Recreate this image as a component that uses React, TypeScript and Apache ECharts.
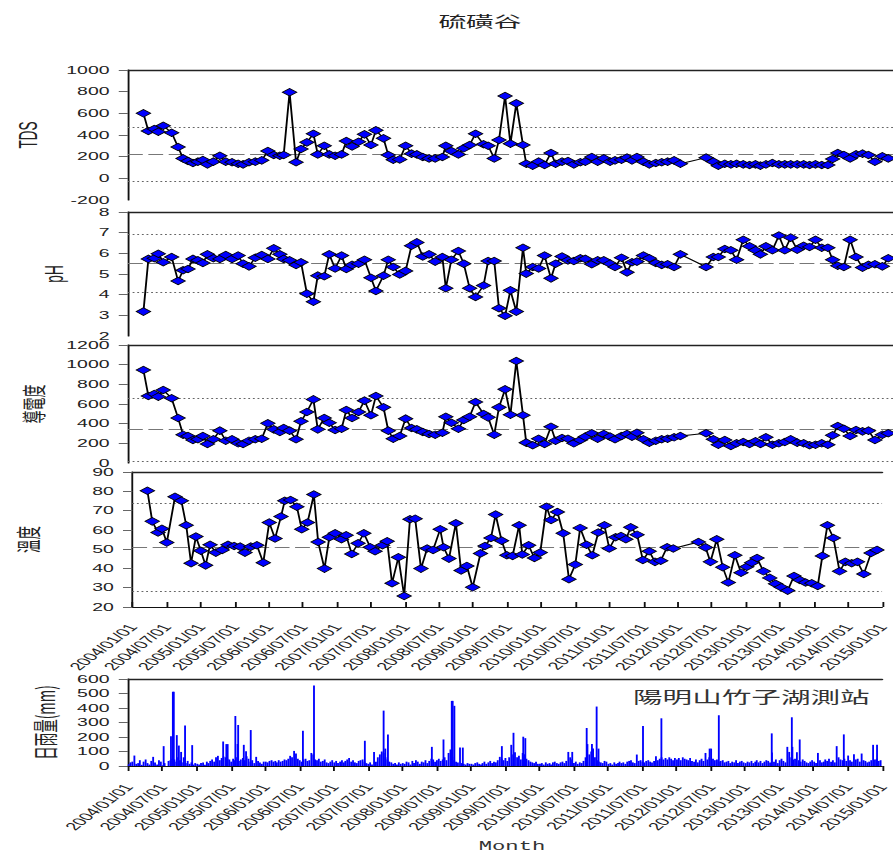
import React, { useEffect, useRef } from "react";
import * as echarts from "echarts";

// ---------------- data ----------------
const sampleDates = [
  "2004-03-22", "2004-04-17", "2004-05-18", "2004-06-08", "2004-07-04", "2004-08-17", "2004-09-20", "2004-10-16", "2004-11-11", "2004-12-07",
  "2005-01-02", "2005-01-28", "2005-02-21", "2005-03-24", "2005-04-27", "2005-05-28", "2005-06-30", "2005-08-01", "2005-08-27", "2005-09-27",
  "2005-10-30", "2005-12-03", "2006-01-04", "2006-02-04", "2006-03-08", "2006-03-28", "2006-04-28", "2006-06-01", "2006-06-27", "2006-07-28",
  "2006-08-31", "2006-09-23", "2006-10-27", "2006-11-22", "2006-12-23", "2007-01-26", "2007-02-20", "2007-03-22", "2007-04-25", "2007-05-26",
  "2007-06-29", "2007-07-25", "2007-09-03", "2007-09-28", "2007-10-24", "2007-11-27", "2007-12-28", "2008-01-28", "2008-02-25", "2008-03-27",
  "2008-04-29", "2008-05-31", "2008-07-08", "2008-07-26", "2008-08-24", "2008-09-30", "2008-10-28", "2008-11-28", "2008-12-29", "2009-02-09",
  "2009-03-05", "2009-04-06", "2009-05-01", "2009-06-02", "2009-06-30", "2009-07-31", "2009-09-04", "2009-09-21", "2009-10-25", "2009-11-25",
  "2009-12-26", "2010-01-29", "2010-02-22", "2010-03-28", "2010-04-28", "2010-05-29", "2010-07-02", "2010-07-28", "2010-08-31", "2010-10-01",
  "2010-11-02", "2010-12-05", "2010-12-31", "2011-02-03", "2011-03-04", "2011-03-30", "2011-04-25", "2011-05-29", "2011-06-29", "2011-08-02",
  "2011-09-02", "2011-10-03", "2011-11-06", "2011-12-09", "2012-04-22", "2012-05-30", "2012-06-25", "2012-07-29", "2012-08-30", "2012-09-29",
  "2012-11-03", "2012-12-06", "2013-01-06", "2013-02-01", "2013-03-02", "2013-04-05", "2013-05-09", "2013-06-09", "2013-07-10", "2013-08-13",
  "2013-09-16", "2013-10-17", "2013-11-17", "2013-12-20", "2014-01-21", "2014-02-15", "2014-03-14", "2014-04-15", "2014-05-18", "2014-06-18",
  "2014-07-22", "2014-08-22", "2014-09-25", "2014-11-03", "2014-12-04",
];

const tdsValues = [
  600, 437, 455, 430, 486, 421, 289, 184, 160, 141, 154, 169, 129, 154, 209, 154, 148, 135, 129, 148,
  154, 166, 252, 215, 209, 215, 794, 148, 271, 332, 412, 221, 301, 221, 209, 221, 344, 295, 338, 406,
  308, 443, 369, 215, 172, 175, 301, 228, 221, 197, 184, 184, 197, 301, 252, 221, 277, 308, 412, 314,
  301, 184, 354, 760, 320, 692, 308, 135, 117, 154, 123, 234, 135, 154, 160, 129, 148, 154, 197, 154,
  184, 154, 166, 172, 191, 166, 197, 154, 129, 141, 148, 154, 166, 135, 191, 154, 117, 135, 129, 135,
  129, 123, 129, 117, 129, 141, 129, 129, 129, 129, 129, 123, 129, 123, 123, 178, 234, 215, 184, 221,
  228, 215, 154, 203, 184,
];

const phValues = [
  3.18, 5.73, 5.76, 5.98, 5.57, 5.82, 4.66, 5.18, 5.24, 5.73, 5.66, 5.53, 5.95, 5.76, 5.73, 5.92, 5.73, 5.89, 5.5, 5.37,
  5.79, 5.92, 5.73, 6.24, 5.95, 5.73, 5.66, 5.44, 5.57, 4.05, 3.66, 4.92, 4.89, 5.95, 5.27, 5.89, 5.24, 5.44, 5.5, 5.69,
  4.82, 4.18, 4.92, 5.69, 5.34, 4.98, 5.15, 6.37, 6.53, 5.85, 5.95, 5.6, 5.82, 4.31, 5.69, 6.11, 5.5, 4.31, 3.89, 4.44,
  5.63, 5.63, 3.34, 2.98, 4.21, 3.18, 6.27, 5.02, 5.34, 5.27, 5.89, 4.79, 5.5, 5.85, 5.66, 5.63, 5.76, 5.73, 5.47, 5.66,
  5.66, 5.5, 5.34, 5.79, 5.08, 5.57, 5.6, 5.89, 5.76, 5.53, 5.44, 5.47, 5.34, 5.95, 5.34, 5.82, 5.82, 6.21, 6.15, 5.69,
  6.66, 6.34, 6.15, 5.95, 6.34, 6.15, 6.86, 6.15, 6.76, 6.18, 6.37, 6.31, 6.66, 6.27, 6.27, 5.69, 5.4, 5.34, 6.66, 5.82,
  5.31, 5.44, 5.47, 5.37, 5.76,
];

const condValues = [
  946, 681, 702, 675, 742, 658, 458, 288, 275, 234, 241, 275, 193, 241, 329, 227, 241, 200, 193, 227,
  241, 247, 403, 342, 315, 356, 329, 241, 424, 519, 647, 342, 458, 410, 336, 349, 539, 458, 519, 634,
  485, 681, 566, 329, 247, 275, 451, 356, 342, 315, 295, 288, 308, 471, 410, 349, 437, 471, 620, 498,
  464, 288, 566, 749, 491, 1037, 485, 207, 180, 247, 193, 369, 227, 254, 247, 200, 234, 268, 302, 247,
  295, 268, 241, 275, 295, 268, 308, 241, 207, 227, 241, 247, 261, 275, 302, 241, 186, 234, 173, 200,
  213, 193, 220, 193, 261, 186, 200, 213, 241, 207, 200, 180, 186, 200, 186, 281, 376, 349, 275, 336,
  322, 329, 234, 288, 302,
];

const tempValues = [
  80.3, 64.4, 58.6, 60.6, 53.4, 77.2, 75.1, 62.4, 42.7, 56.5, 49.2, 41.6, 52.3, 48.2, 49.6, 52.3, 51.6, 51.3, 48.2, 51.3,
  52.0, 43.0, 63.8, 55.5, 66.9, 75.1, 75.5, 72.0, 60.3, 63.8, 78.3, 53.7, 39.9, 56.2, 58.2, 55.1, 57.2, 47.5, 53.0, 58.2,
  51.0, 48.9, 52.0, 54.1, 32.3, 45.8, 25.7, 65.5, 65.8, 39.9, 50.3, 49.6, 60.3, 51.0, 45.1, 63.4, 38.9, 41.3, 30.2, 47.8,
  51.6, 55.8, 67.9, 54.4, 46.8, 46.5, 62.4, 47.2, 52.0, 45.4, 48.2, 72.0, 65.1, 69.3, 58.2, 34.4, 42.0, 61.0, 52.3, 46.8,
  58.6, 62.4, 50.3, 56.2, 56.8, 55.1, 61.3, 57.5, 44.4, 48.9, 43.4, 44.0, 51.0, 50.3, 53.7, 50.9, 43.4, 55.1, 40.6, 32.7,
  46.8, 37.8, 40.9, 43.0, 45.4, 38.5, 35.1, 32.0, 30.2, 28.5, 36.1, 34.0, 32.7, 32.3, 30.9, 46.5, 62.4, 55.8, 38.5, 43.4,
  42.7, 43.4, 37.1, 48.0, 49.6,
];

// reference lines: [lower limit, mean, upper limit]
const tdsRefLines = [-28, 222, 467];
const phRefLines = [4.11, 5.52, 6.92];
const condRefLines = [20, 342, 657];
const tempRefLines = [28.0, 50.8, 73.6];

// daily rainfall, background level per ten-day period (Jan 1-10, 11-20, 21-31, Feb ...)
const rain2004 = [12, 25, 30, 72, 15, 20, 40, 8, 30, 45, 20, 10, 35, 63, 25, 10, 40, 30, 5, 20, 0, 35, 40, 50, 45, 30, 60, 40, 25, 60, 20, 35, 15, 25, 10, 20];
const rain2005 = [15, 10, 20, 25, 8, 30, 20, 35, 45, 30, 60, 70, 40, 55, 65, 60, 50, 45, 30, 50, 40, 60, 35, 45, 55, 40, 67, 50, 30, 40, 20, 63, 35, 25, 15, 30];
const rain2006 = [30, 25, 35, 40, 30, 35, 25, 40, 30, 35, 45, 40, 50, 70, 60, 104, 86, 50, 40, 30, 45, 50, 35, 40, 90, 80, 45, 40, 50, 30, 35, 45, 25, 20, 30, 40];
const rain2007 = [25, 35, 20, 30, 40, 25, 35, 45, 55, 30, 40, 25, 20, 35, 40, 45, 30, 20, 15, 25, 10, 97, 30, 60, 80, 100, 90, 60, 45, 30, 25, 15, 20, 10, 25, 15];
const rain2008 = [20, 15, 30, 25, 10, 35, 20, 40, 30, 15, 30, 25, 40, 20, 35, 50, 45, 30, 40, 50, 35, 45, 60, 40, 90, 114, 63, 40, 30, 25, 127, 20, 15, 10, 20, 15];
const rain2009 = [15, 10, 20, 25, 15, 10, 20, 30, 15, 25, 35, 20, 30, 25, 40, 63, 50, 40, 55, 35, 60, 146, 80, 95, 60, 70, 45, 90, 81, 50, 40, 30, 25, 20, 30, 15];
const rain2010 = [15, 20, 10, 25, 15, 20, 10, 25, 30, 20, 15, 25, 30, 20, 35, 97, 60, 45, 20, 30, 15, 25, 20, 35, 60, 151, 80, 100, 120, 60, 40, 30, 25, 20, 35, 30];
const rain2011 = [15, 20, 10, 25, 15, 20, 30, 20, 25, 15, 30, 35, 40, 25, 20, 79, 35, 40, 30, 25, 35, 40, 30, 25, 35, 67, 40, 50, 60, 45, 55, 45, 60, 50, 40, 55];
const rain2012 = [45, 55, 40, 60, 50, 45, 40, 55, 35, 30, 45, 25, 40, 50, 35, 90, 45, 60, 120, 50, 40, 45, 30, 35, 40, 25, 30, 35, 20, 30, 25, 40, 20, 30, 35, 25];
const rain2013 = [20, 30, 25, 35, 20, 30, 40, 25, 35, 20, 30, 40, 35, 25, 93, 30, 45, 20, 40, 50, 35, 25, 132, 97, 60, 45, 50, 95, 40, 30, 45, 35, 25, 20, 30, 40];
const rain2014 = [30, 20, 90, 40, 25, 30, 45, 35, 50, 30, 40, 25, 137, 60, 45, 40, 50, 35, 72, 40, 30, 81, 45, 50, 30, 86, 40, 35, 25, 30, 40, 146, 45, 50, 35, 40];

// single heavy-rain days
const rainPeakDates = [
  "2004-07-09", "2004-08-17", "2004-08-27", "2004-09-01", "2004-09-17", "2004-09-28", "2004-10-10", "2004-10-31", "2004-12-08",
  "2005-05-22", "2005-06-08", "2005-06-15", "2005-07-26", "2005-08-07", "2005-08-10", "2005-09-09", "2005-09-21", "2005-10-16",
  "2006-07-21", "2006-09-18", "2007-06-16", "2007-09-24", "2007-10-03", "2007-10-17",
  "2008-06-07", "2008-08-08", "2008-09-21", "2008-09-26", "2008-10-05", "2008-11-19",
  "2009-06-15", "2009-08-16", "2009-10-07", "2009-10-18",
  "2010-06-25", "2010-09-10", "2010-10-08", "2010-11-02", "2010-11-12",
  "2011-07-07", "2011-10-13", "2012-06-26", "2012-08-14",
  "2013-05-23", "2013-09-07", "2013-09-10", "2013-10-19", "2014-06-11", "2014-12-05",
];
const rainPeakValues = [
  137, 206, 512, 512, 213, 141, 97, 280, 144,
  169, 151, 151, 345, 151, 283, 146, 102, 248,
  243, 556, 174, 382, 120, 218,
  132, 183, 449, 449, 415, 127,
  137, 229, 202, 192,
  97, 262, 151, 410, 120,
  276, 329, 120, 350,
  225, 336, 132, 183, 218, 146,
];

const xTickStart = "2004-01-01";
const xTickEnd = "2015-01-01";

// ---------------- layout helpers ----------------
const STRETCH = 1.85; // the reference picture is stretched horizontally
const VIEW_W = 893;
const VIEW_H = 856;
const CHART_W = 894 / STRETCH;
const LEFT = 128 / STRETCH;

const DAY = 86400000;
const pad = (n: number) => (n < 10 ? "0" + n : "" + n);
const utc = (s: string) => {
  const [y, m, d] = s.split("-").map(Number);
  return Date.UTC(y, m - 1, d);
};
const ORIGIN = utc(xTickStart);
const toDay = (s: string) => (utc(s) - ORIGIN) / DAY;
const X_INTERVAL = 182.625; // half a year in days
const X_MAX = Math.round(toDay(xTickEnd) / X_INTERVAL) * X_INTERVAL;

const xLabel = (v: number) => {
  const dt = new Date(ORIGIN + (v + 15) * DAY);
  return `${dt.getUTCFullYear()}/${pad(dt.getUTCMonth() + 1)}/01`;
};

const panels = [
  { top: 70, height: 130 },
  { top: 212, height: 124 },
  { top: 345, height: 118 },
  { top: 472, height: 135 },
  { top: 679, height: 87 },
];

export default function App() {
  const ref = useRef<HTMLDivElement>(null);

  useEffect(() => {
    if (!ref.current) return;
    const chart = echarts.init(ref.current, undefined, { renderer: "svg" });

    const labelFont = "'Liberation Sans', Arial, sans-serif";
    const cjkFont = "'Noto Sans CJK TC', 'Noto Sans CJK SC', sans-serif";
    const LABEL_SIZE = 10.5;
    const LABEL_MARGIN = 10;

    const grid = panels.map((p) => ({ left: LEFT, right: 0, top: p.top, height: p.height }));

    const bottomAxes = panels.map((_, i) => {
      const visible = i >= 3;
      return {
        type: "value",
        gridIndex: i,
        position: "bottom",
        min: 0,
        max: X_MAX,
        interval: X_INTERVAL,
        show: visible,
        axisLine: { show: visible, onZero: false, lineStyle: { color: "#111", width: 1 } },
        axisTick: { show: visible, inside: i === 3, length: 5, lineStyle: { color: "#111", width: 1 } },
        minorTick: { show: false },
        axisLabel: {
          show: visible,
          rotate: 54,
          fontSize: 10.8,
          fontFamily: labelFont,
          color: "#222",
          margin: i === 3 ? 18 : 19,
          showMinLabel: true,
          showMaxLabel: true,
          formatter: xLabel,
        },
        splitLine: { show: false },
      };
    });
    const topAxes = panels.map((_, i) => ({
      type: "value",
      gridIndex: i,
      position: "top",
      min: 0,
      max: X_MAX,
      axisLine: { show: true, onZero: false, lineStyle: { color: "#222", width: 1.4 } },
      axisTick: { show: false },
      axisLabel: { show: false },
      splitLine: { show: false },
    }));

    const yDefs = [
      { min: -200, max: 1000, interval: 200, name: "TDS", gap: 47, size: 13.5, font: labelFont },
      { min: 2, max: 8, interval: 1, name: "pH", gap: 33, size: 13.5, font: labelFont },
      { min: 0, max: 1200, interval: 200, name: "導電度", gap: 45, size: 13, font: cjkFont },
      { min: 20, max: 90, interval: 10, name: "溫度", gap: 50, size: 13.5, font: cjkFont },
      { min: 0, max: 600, interval: 100, name: "日雨量(mm)", gap: 38, size: 13.5, font: cjkFont },
    ];
    // the bottom label of the three upper panels is drawn as a separate text (see below)
    const separateMin = (i: number) => i < 3;
    const yAxis = yDefs.map((d, i) => ({
      type: "value",
      gridIndex: i,
      min: d.min,
      max: d.max,
      interval: d.interval,
      name: d.name,
      nameLocation: "middle",
      nameGap: d.gap,
      nameRotate: 90,
      nameTextStyle: { fontSize: d.size, fontFamily: d.font, color: "#222" },
      axisLine: { show: true, onZero: false, lineStyle: { color: "#111", width: 1 } },
      axisTick: { show: true, length: 5, lineStyle: { color: "#666", width: 1 } },
      axisLabel: {
        fontSize: LABEL_SIZE,
        fontFamily: labelFont,
        color: "#222",
        margin: LABEL_MARGIN,
        showMinLabel: !separateMin(i),
        showMaxLabel: true,
        formatter: (v: number) => String(v),
      },
      splitLine: { show: false },
    }));

    const dotted = { type: [1, 1.5], color: "#666", width: 0.9 };
    const dashed = { type: [8, 3], color: "#777", width: 0.9 };
    const lineSeries = (i: number, values: number[], refs: number[]) => ({
      type: "line",
      xAxisIndex: i,
      yAxisIndex: i,
      data: sampleDates.map((d, k) => [toDay(d), values[k]]),
      symbol: "diamond",
      symbolSize: [7.8, 7.6],
      showAllSymbol: true,
      itemStyle: { color: "#0000ff", borderColor: "#000", borderWidth: 0.7 },
      lineStyle: { color: "#000", width: 1 },
      z: 3,
      markLine: {
        silent: true,
        symbol: ["none", "none"],
        label: { show: false },
        z: 1,
        data: [
          { yAxis: refs[0], lineStyle: dotted },
          { yAxis: refs[1], lineStyle: dashed },
          { yAxis: refs[2], lineStyle: dotted },
        ],
      },
    });

    const bins = [rain2004, rain2005, rain2006, rain2007, rain2008, rain2009, rain2010, rain2011, rain2012, rain2013, rain2014];
    const rainData: number[][] = [];
    bins.forEach((arr, yi) => {
      arr.forEach((v, k) => {
        const month = Math.floor(k / 3) + 1;
        const day = [4, 14, 24][k % 3];
        rainData.push([toDay(`${2004 + yi}-${pad(month)}-${pad(day)}`), v]);
      });
    });
    rainPeakDates.forEach((d, k) => rainData.push([toDay(d), rainPeakValues[k]]));

    const baseGraphic: any[] = [
      {
        type: "text",
        x: 480 / STRETCH,
        y: 20,
        style: { text: "硫磺谷", fontSize: 15, fontFamily: cjkFont, fill: "#222", align: "center", verticalAlign: "middle" },
      },
      {
        type: "text",
        x: 633 / STRETCH,
        y: 696,
        style: { text: "陽明山竹子湖測站", fontSize: 16, fontFamily: cjkFont, fill: "#333", align: "left", verticalAlign: "middle" },
      },
      {
        type: "text",
        x: 512 / STRETCH,
        y: 847,
        style: { text: "Month", fontSize: 12, fontFamily: "'Liberation Mono', 'DejaVu Sans Mono', monospace", fill: "#333", align: "center", verticalAlign: "middle" },
      },
    ];

    const option: any = {
      animation: false,
      backgroundColor: "#fff",
      grid,
      xAxis: [...bottomAxes, ...topAxes],
      yAxis,
      series: [
        lineSeries(0, tdsValues, tdsRefLines),
        lineSeries(1, phValues, phRefLines),
        lineSeries(2, condValues, condRefLines),
        lineSeries(3, tempValues, tempRefLines),
        {
          type: "bar",
          xAxisIndex: 4,
          yAxisIndex: 4,
          data: rainData,
          barWidth: 0.6,
          itemStyle: { color: "#0000ff" },
        },
      ],
      graphic: baseGraphic,
    };
    chart.setOption(option);

    // bottom tick labels of the upper panels, placed through the axes' own scales
    const minLabels = yDefs
      .map((d, i) => ({ d, i }))
      .filter(({ i }) => separateMin(i))
      .map(({ d, i }) => {
        const p = chart.convertToPixel({ xAxisIndex: i, yAxisIndex: i }, [0, d.min]) as number[];
        return {
          type: "text",
          x: p[0] - LABEL_MARGIN,
          y: p[1],
          style: {
            text: String(d.min),
            fontSize: LABEL_SIZE,
            fontFamily: labelFont,
            fill: "#222",
            align: "right",
            verticalAlign: "middle",
          },
        };
      });
    chart.setOption({ graphic: [...baseGraphic, ...minLabels] });

    return () => chart.dispose();
  }, []);

  return (
    <div style={{ position: "fixed", left: 0, top: 0, width: VIEW_W, height: VIEW_H, overflow: "hidden", background: "#fff" }}>
      <div
        ref={ref}
        style={{ width: CHART_W, height: VIEW_H, transform: `scaleX(${STRETCH})`, transformOrigin: "0 0" }}
      />
    </div>
  );
}
